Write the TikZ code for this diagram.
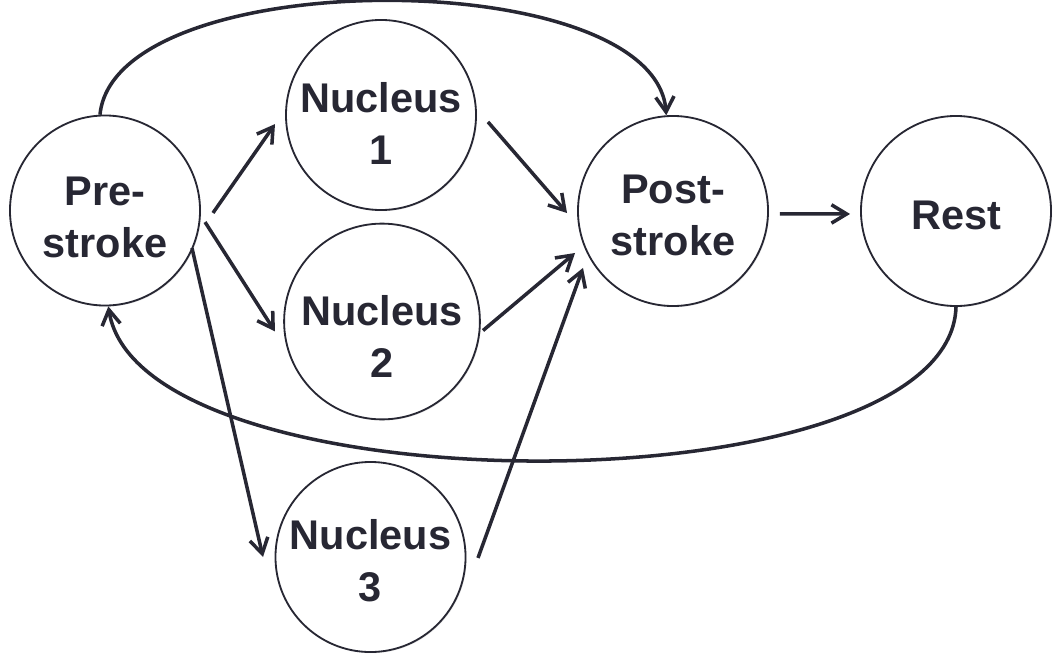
\documentclass[tikz,border=0pt]{standalone}
\usepackage{fontspec}
\setmainfont{Liberation Sans}
\usetikzlibrary{arrows.meta,shadows}

\definecolor{ink}{HTML}{272733}

\begin{document}
\begin{tikzpicture}[
    x=0.025cm, y=0.025cm,
    state/.style={
        circle,
        draw=ink,
        line width=1.3pt,
        fill=white,
        minimum size=4.75cm,
        inner sep=0pt,
        align=center,
        text=ink,
        font=\fontsize{29.5}{37}\selectfont\bfseries,
        drop shadow={opacity=0.2, shadow xshift=0.8pt, shadow yshift=-0.8pt}
    },
    edge/.style={-{Straight Barb[length=3.8mm,width=4.6mm]}, line width=2.5pt, draw=ink},
]
\useasboundingbox (0,0) rectangle (1063,-663);

% the struts push the labels a little below the centres
\node[state] (pre) at (105,-210.5) {\rule{0pt}{30pt}Pre-\\stroke};
\node[state] (nuc1) at (381,-115) {\rule{0pt}{33pt}Nucleus\\1};
\node[state] (nuc2) at (382,-321.5) {\rule{0pt}{42pt}Nucleus\\2};
\node[state] (nuc3) at (370.5,-557) {\rule{0pt}{26pt}Nucleus\\3};
\node[state] (post) at (673,-211) {\rule{0pt}{27pt}Post-\\stroke};
\node[state] (rest) at (956,-211) {\rule{0pt}{27pt}Rest};

% pre-stroke to the nuclei
\draw[edge] ([shift={(-1.3:108)}]pre.center) -- ([shift={(184.9:106.4)}]nuc1.center);
\draw[edge] ([shift={(-6.6:100.7)}]pre.center) -- ([shift={(185.3:107.5)}]nuc2.center);
\draw[edge] ([shift={(-23.3:94.7)}]pre.center) -- ([shift={(180:107.5)}]nuc3.center);

% nuclei to post-stroke
\draw[edge] ([shift={(-3.7:107.2)}]nuc1.center) -- ([shift={(181.1:106)}]post.center);
\draw[edge] ([shift={(-5.1:101.4)}]nuc2.center) -- ([shift={(203.2:106.6)}]post.center);
\draw[edge] ([shift={(-0.5:107.5)}]nuc3.center) -- ([shift={(212.3:106.5)}]post.center);

\draw[edge] ([shift={(-1.6:107)}]post.center) -- ([shift={(181.6:106)}]rest.center);

% loops over the top and round the bottom
\draw[edge] (pre.93) .. controls +(15,152) and +(-12,152) .. (post.94);
\draw[edge] (rest.-90) .. controls +(-6,-205) and +(32,-205) .. (pre.-88);
\end{tikzpicture}
\end{document}
